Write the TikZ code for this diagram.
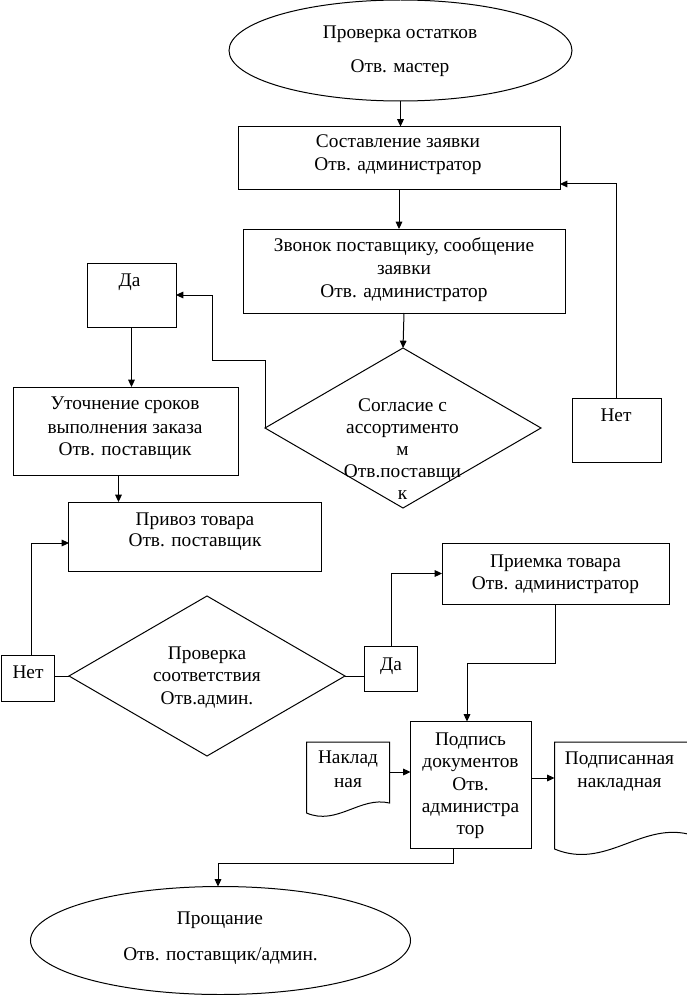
\documentclass[tikz,border=0pt]{standalone}
\usepackage{fontspec}
\setmainfont{Liberation Serif}
\usetikzlibrary{shapes.geometric,arrows.meta,calc}
\begin{document}
\begin{tikzpicture}[x=0.75pt,y=-0.75pt,
  every node/.style={inner sep=0pt, outer sep=0pt},
  shp/.style={draw, line width=0.75pt},
  boxs/.style={shp, rectangle},
  ell/.style={shp, ellipse},
  dia/.style={shp, diamond},
  txt/.style={font=\fontsize{14.5}{17}\selectfont, anchor=mid, yshift=-1.9pt},
  arr/.style={line width=0.75pt, -{Triangle[length=5.5pt,width=5pt]}},
  ln/.style={line width=0.75pt}]
\useasboundingbox (0,0) rectangle (686,995);

% shapes
\node[ell, minimum width=257.25pt, minimum height=75.75pt] (e1) at (400.5,50.5) {};
\node[boxs, minimum width=241.5pt, minimum height=47.6pt] (b1) at (399,158.25) {};
\node[boxs, minimum width=241.5pt, minimum height=63pt] (b2) at (404,271) {};
\node[dia, minimum width=207pt, minimum height=120pt] (d1) at (403,428) {};
\node[boxs, minimum width=66.75pt, minimum height=48pt] (da1) at (131.5,295) {};
\node[boxs, minimum width=168.75pt, minimum height=66pt] (b3) at (125.5,431) {};
\node[boxs, minimum width=189.4pt, minimum height=51.75pt] (b4) at (195.25,536.5) {};
\node[boxs, minimum width=66.75pt, minimum height=48pt] (net1) at (616.5,430) {};
\node[dia, minimum width=207pt, minimum height=120pt] (d2) at (207,676) {};
\node[boxs, minimum width=39.4pt, minimum height=34.5pt] (net2) at (28.25,678) {};
\node[boxs, minimum width=40.1pt, minimum height=34.1pt] (da2) at (391.25,669.25) {};
\node[boxs, minimum width=170.25pt, minimum height=45.75pt] (b5) at (555.5,573.5) {};
\node[boxs, minimum width=91.1pt, minimum height=95.6pt] (b6) at (471.25,785.25) {};
\node[ell, minimum width=285pt, minimum height=81pt] (e2) at (220.5,940.5) {};

% documents
\draw[ln] (306.5,742) -- (389.5,742) -- (389.5,803) .. controls (360,796) and (337,826) .. (306.5,813) -- cycle;
\coordinate (doc1e) at (389.5,772);
\draw[ln] (554.5,742) -- (688,742) -- (688,834) .. controls (640,823) and (605,870) .. (554.5,849) -- cycle;
\coordinate (doc2w) at (554.5,778);

% connectors
\draw[arr] (e1.south) -- (e1.south |- b1.north);
\draw[arr] (b1.south) -- (b1.south |- b2.north);
\draw[arr] (b2.south) -- (d1.north);
\draw[arr] (d1.west) |- (212,360) |- (da1.east);
\draw[arr] (da1.south) -- (da1.south |- b3.north);
\coordinate (c3) at ($(b3.south)+(-7,0)$);
\draw[arr] (c3) -- (c3 |- b4.north);
\draw[arr] (net1.north) |- ($(b1.south east)+(0,-6)$);
\draw[ln] (d2.west) -- (d2.west -| net2.east);
\coordinate (c4) at ($(net2.north)+(3,0)$);
\draw[arr] (c4) |- (b4.west |- 0,543);
\draw[ln] (d2.east) -- (d2.east -| da2.west);
\draw[arr] (da2.north) |- (b5.west);
\draw[arr] (b5.south) |- (467,663) -- (467,0 |- b6.north);
\draw[arr] (doc1e) -- (doc1e -| b6.west);
\draw[arr] (b6.east |- doc2w) -- (doc2w);
\coordinate (c6) at ($(b6.south)+(-18,0)$);
\draw[arr] (c6) |- (218,863) -- (218,0 |- e2.north);

% texts
\node[txt] (t1a) at (400,33) {Проверка остатков};
\node[txt] (t1b) at (400,67) {Отв. мастер};
\node[txt] (t2a) at (398,142) {Составление заявки};
\node[txt] (t2b) at (398,165) {Отв. администратор};
\node[txt] (t3a) at (404,246) {Звонок поставщику, сообщение};
\node[txt] (t3b) at (404,269) {заявки};
\node[txt] (t3c) at (404,292) {Отв. администратор};
\node[txt] (t4a) at (402.5,406) {Согласие с};
\node[txt] (t4b) at (402.5,428) {ассортименто};
\node[txt] (t4c) at (402.5,450) {м};
\node[txt] (t4d) at (402.5,471.5) {Отв.поставщи};
\node[txt] (t4e) at (402.5,494) {к};
\node[txt] (t5) at (129.5,281) {Да};
\node[txt] (t6a) at (125,404) {Уточнение сроков};
\node[txt] (t6b) at (125,427.5) {выполнения заказа};
\node[txt] (t6c) at (125,450) {Отв. поставщик};
\node[txt] (t7a) at (195,519.5) {Привоз товара};
\node[txt] (t7b) at (195,541) {Отв. поставщик};
\node[txt] (t8) at (616,416) {Нет};
\node[txt] (t9a) at (207,654) {Проверка};
\node[txt] (t9b) at (207,675.5) {соответствия};
\node[txt] (t9c) at (207,699) {Отв.админ.};
\node[txt] (t10) at (28,673) {Нет};
\node[txt] (t11) at (391,665) {Да};
\node[txt] (t12a) at (555.5,561.5) {Приемка товара};
\node[txt] (t12b) at (555.5,583.5) {Отв. администратор};
\node[txt] (t13a) at (470.5,739.5) {Подпись};
\node[txt] (t13b) at (470.5,761.5) {документов};
\node[txt] (t13c) at (470.5,784.5) {Отв.};
\node[txt] (t13d) at (470.5,806.5) {администра};
\node[txt] (t13e) at (470.5,828.5) {тор};
\node[txt] (t14a) at (348,758) {Наклад};
\node[txt] (t14b) at (348,782) {ная};
\node[txt] (t15a) at (619.5,759) {Подписанная};
\node[txt] (t15b) at (619.5,782) {накладная};
\node[txt] (t16a) at (220,919) {Прощание};
\node[txt] (t16b) at (220.5,955) {Отв. поставщик/админ.};
\end{tikzpicture}
\end{document}
